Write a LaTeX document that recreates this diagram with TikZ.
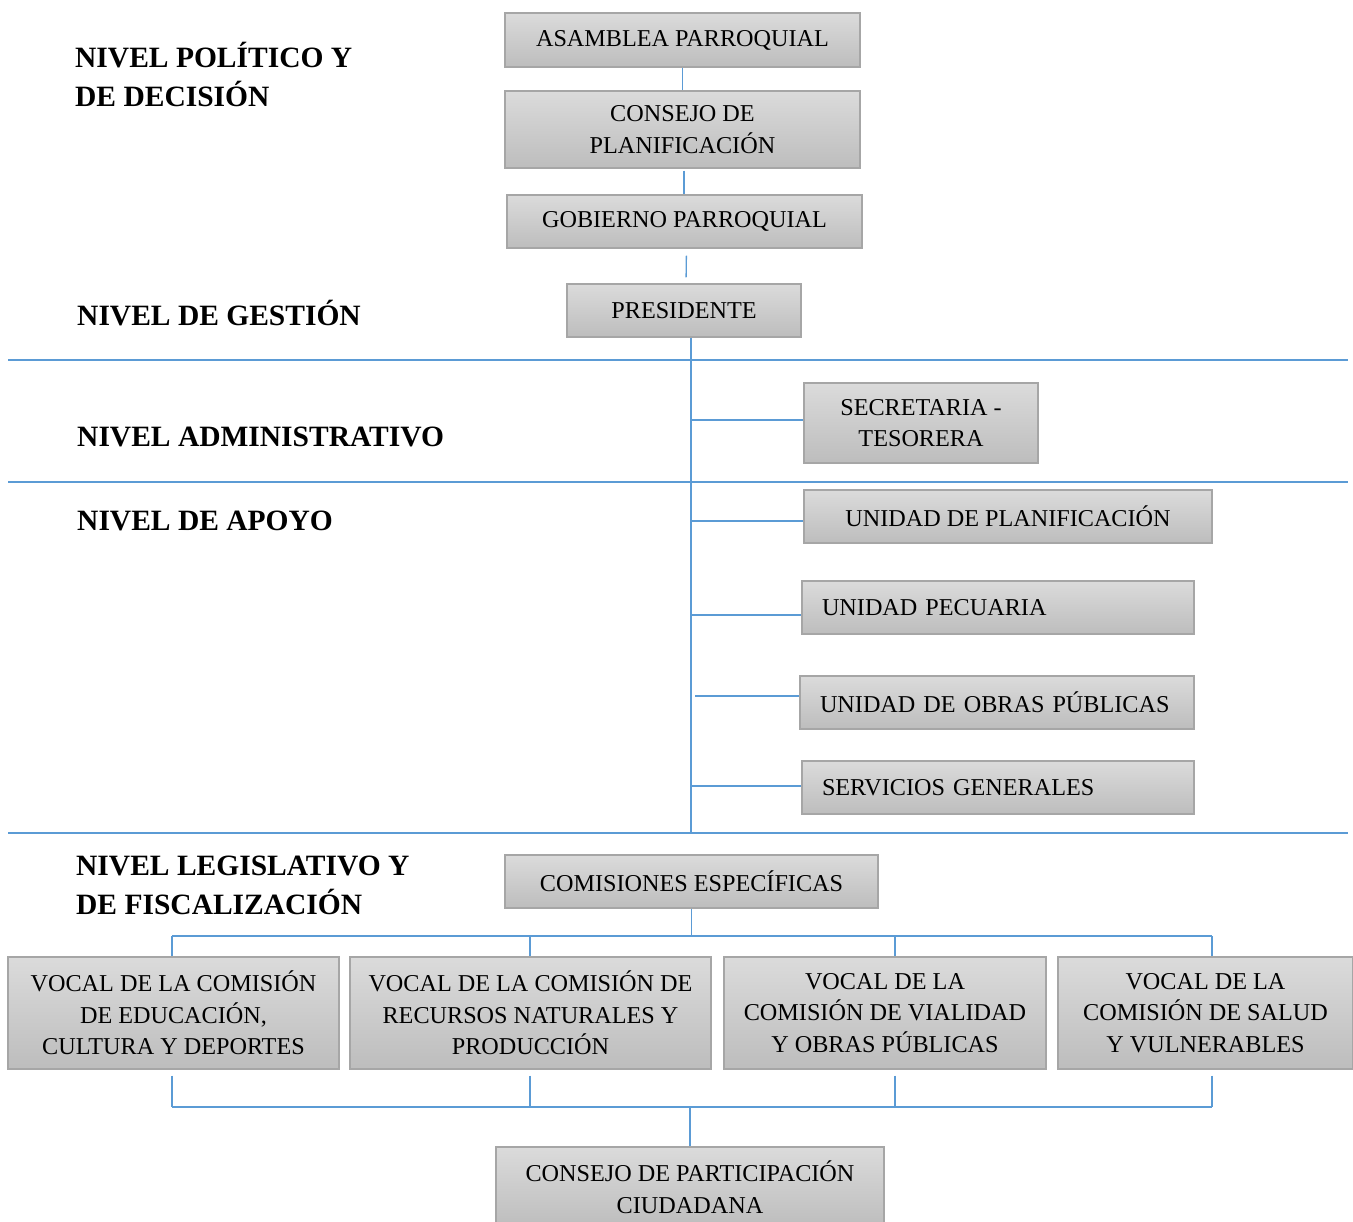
\documentclass[tikz,border=0pt]{standalone}
\usepackage{fontspec}
\setmainfont{Liberation Serif}
\definecolor{linkblue}{HTML}{5B9BD5}
\definecolor{boxtop}{HTML}{DBDBDB}
\definecolor{boxbot}{HTML}{BDBDBD}
\definecolor{boxedge}{HTML}{A6A6A6}
\begin{document}
\begin{tikzpicture}[x=1pt,y=-1pt,
  unit/.style={draw=boxedge, line width=1.4pt, top color=boxtop, bottom color=boxbot,
    font=\fontsize{24.2}{31.5}\selectfont, align=center, inner sep=0pt},
  leftunit/.style={unit, align=left, text width=352pt, inner xsep=20pt, minimum height=53pt},
  level/.style={font=\fontsize{29.5}{39}\selectfont\bfseries, align=left, anchor=base west, inner sep=0pt},
  link/.style={draw=linkblue, line width=1.3pt},
  divider/.style={draw=linkblue, line width=1.1pt}]
\useasboundingbox (0,0) rectangle (1353,1222);

% level headings (anchor is the baseline of the last line)
\node[level] (lpol) at (75,107) {NIVEL POLÍTICO Y\\DE DECISIÓN};
\node[level] (lges) at (77,326) {NIVEL DE GESTIÓN};
\node[level] (ladm) at (77,447) {NIVEL ADMINISTRATIVO};
\node[level] (lapo) at (77,530) {NIVEL DE APOYO};
\node[level] (lleg) at (76,914) {NIVEL LEGISLATIVO Y\\DE FISCALIZACIÓN};

% upper chain
\node[unit, minimum width=355pt, minimum height=54pt] (asam) at (682.5,40) {ASAMBLEA PARROQUIAL};
\node[unit, minimum width=355pt, minimum height=77pt] (cons) at (682.5,129.5) {CONSEJO DE\\PLANIFICACIÓN};
\node[unit, minimum width=355pt, minimum height=53pt] (gob) at (684.5,221.5) {GOBIERNO PARROQUIAL};
\node[unit, minimum width=234pt, minimum height=53pt] (pres) at (684,310.5) {PRESIDENTE};

% administrative and support units
\node[unit, minimum width=234pt, minimum height=80pt] (sec) at (921,423) {SECRETARIA -\\TESORERA};
\node[unit, minimum width=408pt, minimum height=53pt] (uplan) at (1008,516.5) {UNIDAD DE PLANIFICACIÓN};
\node[leftunit] (upec) at (998,607.5) {UNIDAD PECUARIA};
\node[leftunit, text width=354pt] (uobr) at (997,702.5) {UNIDAD DE OBRAS PÚBLICAS};
\node[leftunit] (serv) at (998,787.5) {SERVICIOS GENERALES};

% legislative level
\node[unit, minimum width=373pt, minimum height=53pt] (com) at (691.5,881.5) {COMISIONES ESPECÍFICAS};
\node[unit, minimum width=331pt, minimum height=112pt] (v1) at (173.5,1013) {VOCAL DE LA COMISIÓN\\DE EDUCACIÓN,\\CULTURA Y DEPORTES};
\node[unit, minimum width=361pt, minimum height=112pt] (v2) at (530.5,1013) {VOCAL DE LA COMISIÓN DE\\RECURSOS NATURALES Y\\PRODUCCIÓN};
\node[unit, minimum width=322pt, minimum height=112pt] (v3) at (885,1013) {VOCAL DE LA\\COMISIÓN DE VIALIDAD\\Y OBRAS PÚBLICAS};
\node[unit, minimum width=295pt, minimum height=112pt] (v4) at (1205.5,1013) {VOCAL DE LA\\COMISIÓN DE SALUD\\Y VULNERABLES};
\node[unit, minimum width=388pt, minimum height=80pt] (cpc) at (690,1187) {CONSEJO DE PARTICIPACIÓN\\CIUDADANA};

% level dividers
\coordinate (h1l) at (8,360);  \coordinate (h1r) at (1348,360);
\coordinate (h2l) at (8,482);  \coordinate (h2r) at (1348,482);
\coordinate (h3l) at (8,833);  \coordinate (h3r) at (1348,833);
\draw[divider] (h1l) -- (h1r);
\draw[divider] (h2l) -- (h2r);
\draw[divider] (h3l) -- (h3r);

% upper chain links
\draw[link] (asam) -- (cons);
\draw[link, shorten <=2pt] ([xshift=1.5pt]cons.south) -- ([xshift=1.5pt]cons.south |- gob.north);
\draw[link, shorten <=7pt, shorten >=6pt] ([xshift=2pt]gob.south) -- ([xshift=2pt]pres.north);

% trunk below the president and its branches
\coordinate (trunkend) at (691,832);
\draw[link] (pres.south -| trunkend) -- (trunkend);
\draw[link] ([yshift=3pt]trunkend |- sec.west) -- ([yshift=3pt]sec.west);
\draw[link] ([yshift=-4.5pt]trunkend |- uplan.west) -- ([yshift=-4.5pt]uplan.west);
\draw[link] ([yshift=-7.5pt]trunkend |- upec.west) -- ([yshift=-7.5pt]upec.west);
\draw[link, shorten <=4pt] ([yshift=6.5pt]trunkend |- uobr.west) -- ([yshift=6.5pt]uobr.west);
\draw[link] ([yshift=1.5pt]trunkend |- serv.west) -- ([yshift=1.5pt]serv.west);

% commissions bus
\coordinate (d1) at (172,936);
\coordinate (d2) at (530,936);
\coordinate (d3) at (895,936);
\coordinate (d4) at (1212,936);
\draw[link] (com.south) -- (com.south |- d1);
\draw[link] (d1) -- (d4);
\draw[link] (d1) -- (d1 |- v1.north);
\draw[link] (d2) -- (d2 |- v2.north);
\draw[link] (d3) -- (d3 |- v3.north);
\draw[link] (d4) -- (d4 |- v4.north);

% lower bus into the citizen council
\coordinate (b1) at (172,1107);
\coordinate (b4) at (1212,1107);
\draw[link, shorten <=6pt] (d1 |- v1.south) -- (b1);
\draw[link, shorten <=6pt] (d2 |- v2.south) -- (d2 |- b1);
\draw[link, shorten <=6pt] (d3 |- v3.south) -- (d3 |- b1);
\draw[link, shorten <=6pt] (d4 |- v4.south) -- (b4);
\draw[link] (b1) -- (b4);
\draw[link] (cpc.north |- b1) -- (cpc.north);
\end{tikzpicture}
\end{document}
